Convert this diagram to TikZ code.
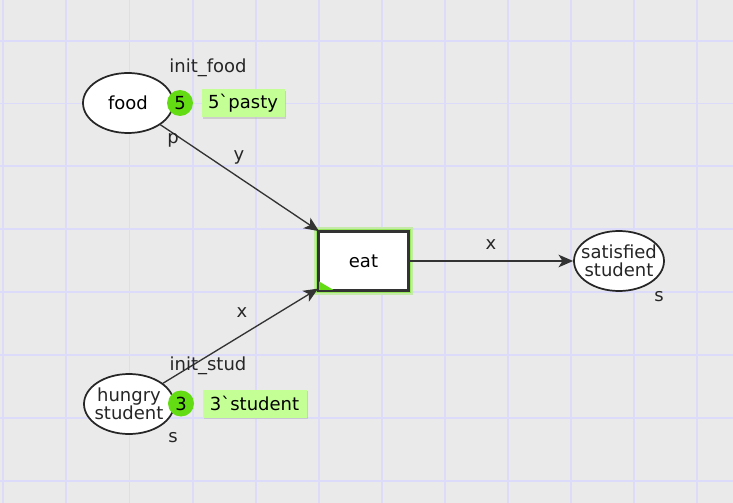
\documentclass[tikz,border=0pt]{standalone}
\usepackage{fontspec}
\setmainfont{DejaVu Sans}
\usetikzlibrary{positioning,shapes.geometric,arrows.meta,shadows}

\definecolor{canvas}{RGB}{234,234,234}
\definecolor{gridblue}{RGB}{220,220,250}
\definecolor{tokgreen}{RGB}{100,220,20}
\definecolor{markgreen}{RGB}{196,255,150}
\definecolor{glow}{RGB}{150,232,90}

\begin{document}
\begin{tikzpicture}[x=0.75pt,y=-0.75pt,
    font=\fontsize{13.5}{13.3}\selectfont,
    place/.style={ellipse,draw=black!85,fill=white,line width=1.3pt,
      minimum width=67.5pt,minimum height=45pt,inner sep=0pt},
    trans/.style={rectangle,draw=black!80,fill=white,line width=1.3pt,
      minimum width=66.75pt,minimum height=43.5pt,
      preaction={draw=glow!45!canvas,line width=7pt},
      preaction={draw=glow,line width=4.5pt}},
    token/.style={circle,fill=tokgreen,inner sep=0pt,minimum size=19.5pt},
    marking/.style={fill=markgreen,inner sep=0pt,minimum height=21pt,
      drop shadow={shadow xshift=1.2pt,shadow yshift=-1.2pt,fill=black!30}},
    arc/.style={draw=black!80,line width=1pt,
      -{Stealth[length=11pt,width=9.5pt,inset=3pt]}},
    lbl/.style={inner sep=0pt,text=black!85}]

  % canvas and grid
  \fill[canvas] (0,0) rectangle (733,503);
  \useasboundingbox (0,0) rectangle (733,503);
  \foreach \i in {0,...,11}
    \draw[gridblue,line width=1.4pt] ({3.3+63.1*\i},0) -- ++(0,503);
  \foreach \j in {0,...,7}
    \draw[gridblue,line width=1.4pt] (0,{40.6+62.9*\j}) -- ++(733,0);

  % places and transition
  \node[place] (food) at (128,103) {food};
  \node[place,label={[align=center,lbl]center:hungry\\student}]
    (hungry) at (129,404) {};
  \node[place,label={[align=center,lbl]center:satisfied\\student}]
    (sat) at (619,261) {};
  \node[trans] (eat) at (363.5,261) {eat};
  \fill[tokgreen] (eat.south west) -- ++(17,0) -- ++(-17,-10) -- cycle;
  \draw[black!80,line width=1.3pt] (eat.north west) rectangle (eat.south east);

  % arcs
  \draw[arc] (food) -- (eat);
  \draw[arc] (hungry) -- (eat);
  \draw[arc] (eat) -- (sat);

  % tokens and markings
  \node[token] (tokfood) at (180,103) {5};
  \node[marking,minimum width=62.25pt,right=6pt of tokfood] (markfood) {5\textasciigrave pasty};
  \node[token] (tokstud) at (181,403.5) {3};
  \node[marking,minimum width=78pt,right=6pt of tokstud] (markstud) {3\textasciigrave student};

  % inscriptions
  \node[lbl] (initfood) at (208,68) {init\_food};
  \node[lbl] (initstud) at (208,366) {init\_stud};
  \node[lbl] (colfood) at (173,140) {p};
  \node[lbl] (colhungry) at (173,438) {s};
  \node[lbl] (colsat) at (659,297) {s};
  \node[lbl] (arcy) at (239,157) {y};
  \node[lbl] (arcx) at (242,313) {x};
  \node[lbl] (arcout) at (491,245) {x};
\end{tikzpicture}
\end{document}
